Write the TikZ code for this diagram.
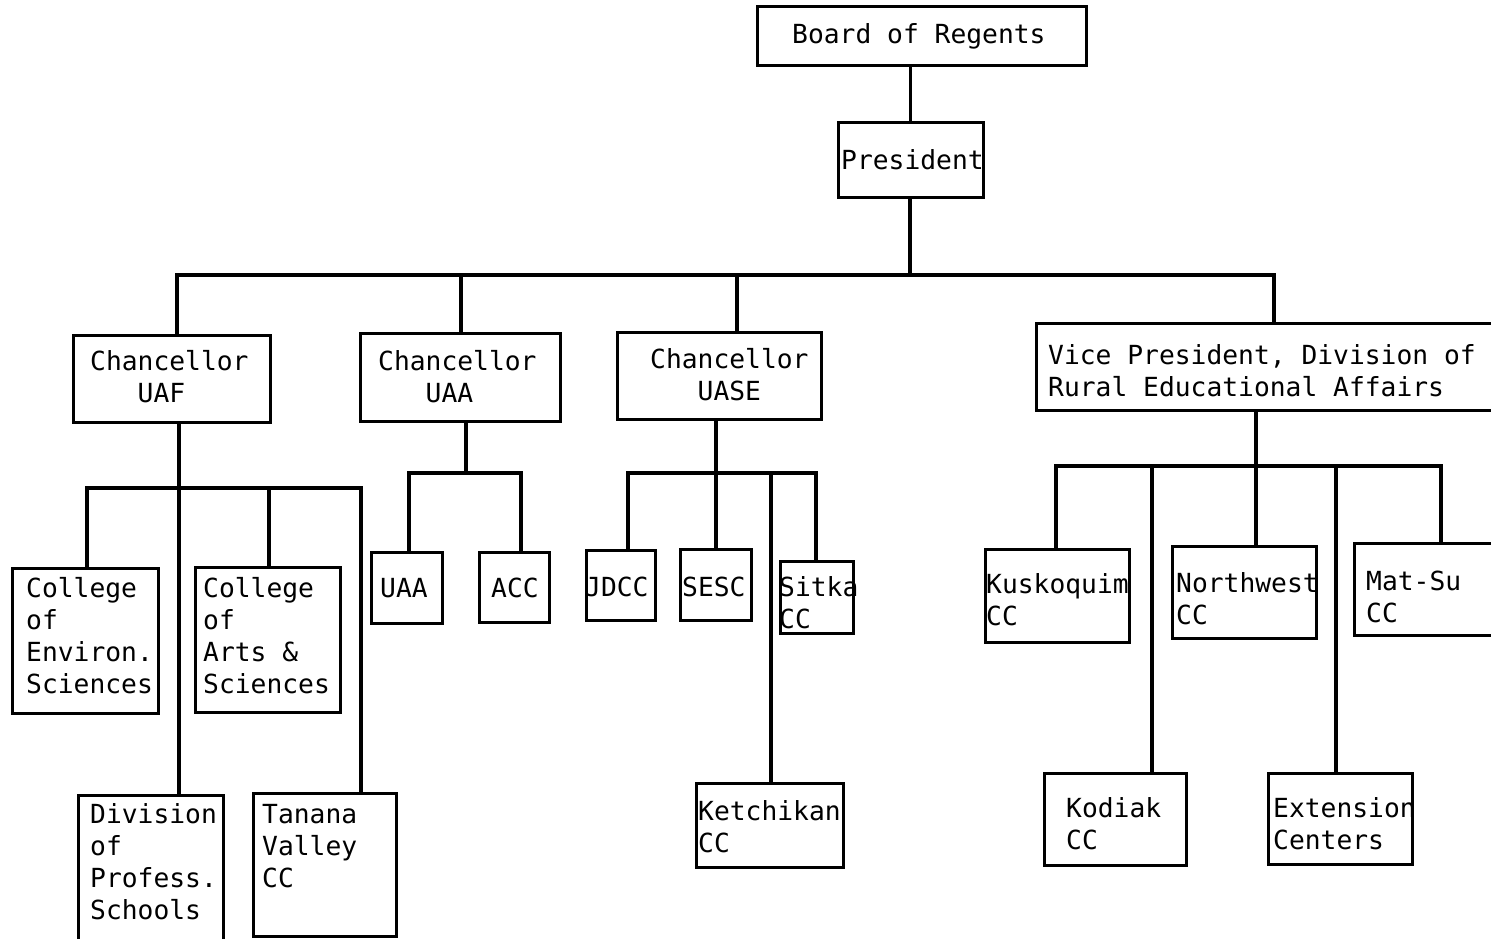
\documentclass[tikz,border=0pt]{standalone}
\usepackage{fontspec}
\newfontfamily\tw{DejaVu Sans Mono}
\begin{document}
\begin{tikzpicture}[x=1pt,y=-1pt,
  box/.style={draw,line width=3pt,inner sep=0pt},
  lbl/.style={anchor=base west,inner sep=0pt,font=\tw\fontsize{26.3}{32.3}\selectfont},
  conn/.style={line width=3.5pt,line cap=round}]
\useasboundingbox (0,0) rectangle (1491,939);
\clip (0,0) rectangle (1491,939);
\newcommand{\bx}[5]{\node[box,minimum width={#4-#2},minimum height={#5-#3}] (#1) at ({(#2+#4)/2},{(#3+#5)/2}) {};}
\newcommand{\ml}[1]{\begin{tabular}[t]{@{}l@{}}#1\end{tabular}}
% boxes
\bx{board}{757}{7}{1086}{66}
\bx{pres}{838}{123}{983}{197}
\bx{uaf}{73}{335}{270}{422}
\bx{uaa}{360}{333}{560}{421}
\bx{uase}{617}{332}{821}{419}
\bx{vp}{1036}{323}{1520}{410}
\bx{env}{12}{568}{158}{713}
\bx{arts}{195}{567}{340}{712}
\bx{div}{78}{795}{223}{941}
\bx{tan}{253}{793}{396}{936}
\bx{uaab}{371}{552}{442}{623}
\bx{acc}{479}{552}{549}{622}
\bx{jdcc}{586}{550}{655}{620}
\bx{sesc}{680}{549}{751}{620}
\bx{sitka}{780}{561}{853}{633}
\bx{ket}{696}{783}{843}{867}
\bx{kus}{985}{549}{1129}{642}
\bx{nw}{1172}{546}{1316}{638}
\bx{mat}{1354}{543}{1520}{635}
\bx{kod}{1044}{773}{1186}{865}
\bx{ext}{1268}{773}{1412}{864}
% texts
\node[lbl] (tboard) at (792,44) {Board of Regents};
\node[lbl] (tpres) at (841,169) {President};
\node[lbl] (tuaf) at (90,370) {\ml{Chancellor\\\hphantom{Cha}UAF}};
\node[lbl] (tuaa) at (378,370) {\ml{Chancellor\\\hphantom{Cha}UAA}};
\node[lbl] (tuase) at (650,368) {\ml{Chancellor\\\hphantom{Cha}UASE}};
\node[lbl] (tvp) at (1048,364) {\ml{Vice President, Division of\\Rural Educational Affairs}};
\node[lbl] (tenv) at (26,597) {\ml{College\\of\\Environ.\\Sciences}};
\node[lbl] (tarts) at (203,597) {\ml{College\\of\\Arts \&\\Sciences}};
\node[lbl] (tdiv) at (90,823) {\ml{Division\\of\\Profess.\\Schools}};
\node[lbl] (ttan) at (262,823) {\ml{Tanana\\Valley\\CC}};
\node[lbl] (tuaab) at (380,597) {UAA};
\node[lbl] (tacc) at (491,597) {ACC};
\node[lbl] (tjdcc) at (585,596) {JDCC};
\node[lbl] (tsesc) at (682,596) {SESC};
\node[lbl] (tsitka) at (779,596) {\ml{Sitka\\CC}};
\node[lbl] (tket) at (698,820) {\ml{Ketchikan\\CC}};
\node[lbl] (tkus) at (986,593) {\ml{Kuskoquim\\CC}};
\node[lbl] (tnw) at (1176,592) {\ml{Northwest\\CC}};
\node[lbl] (tmat) at (1366,590) {\ml{Mat-Su\\CC}};
\node[lbl] (tkod) at (1066,817) {\ml{Kodiak\\CC}};
\node[lbl] (text) at (1273,817) {\ml{Extension\\Centers}};
% connectors
\draw[conn] (board.south -| pres.north) -- (pres.north);
\coordinate (b0) at (910,275);
\coordinate (bL) at (177,275);
\coordinate (bR) at (1274,275);
\coordinate (b2) at (461,275);
\coordinate (b3) at (737,275);
\draw[conn] (b0 |- pres.south) -- (b0);
\draw[conn] (bL |- uaf.north) -- (bL) -- (bR) -- (bR |- vp.north);
\draw[conn] (b2) -- (b2 |- uaa.north);
\draw[conn] (b3) -- (b3 |- uase.north);
% UAF
\coordinate (f0) at (179,488);
\coordinate (fL) at (87,488);
\coordinate (fR) at (361,488);
\coordinate (f2) at (269,488);
\draw[conn] (f0 |- uaf.south) -- (f0 |- div.north);
\draw[conn] (fL |- env.north) -- (fL) -- (fR) -- (fR |- tan.north);
\draw[conn] (f2) -- (f2 |- arts.north);
% UAA
\coordinate (a0) at (466,473);
\coordinate (aL) at (409,473);
\coordinate (aR) at (521,473);
\draw[conn] (a0 |- uaa.south) -- (a0);
\draw[conn] (aL |- uaab.north) -- (aL) -- (aR) -- (aR |- acc.north);
% UASE
\coordinate (s0) at (716,473);
\coordinate (sL) at (628,473);
\coordinate (sR) at (816,473);
\coordinate (s3) at (771,473);
\draw[conn] (s0 |- uase.south) -- (s0 |- sesc.north);
\draw[conn] (sL |- jdcc.north) -- (sL) -- (sR) -- (sR |- sitka.north);
\draw[conn] (s3) -- (s3 |- ket.north);
% VP
\coordinate (v0) at (1256,466);
\coordinate (vL) at (1056,466);
\coordinate (vR) at (1441,466);
\coordinate (v1) at (1152,466);
\coordinate (v3) at (1336,466);
\draw[conn] (v0 |- vp.south) -- (v0 |- nw.north);
\draw[conn] (vL |- kus.north) -- (vL) -- (vR) -- (vR |- mat.north);
\draw[conn] (v1) -- (v1 |- kod.north);
\draw[conn] (v3) -- (v3 |- ext.north);
\end{tikzpicture}
\end{document}
